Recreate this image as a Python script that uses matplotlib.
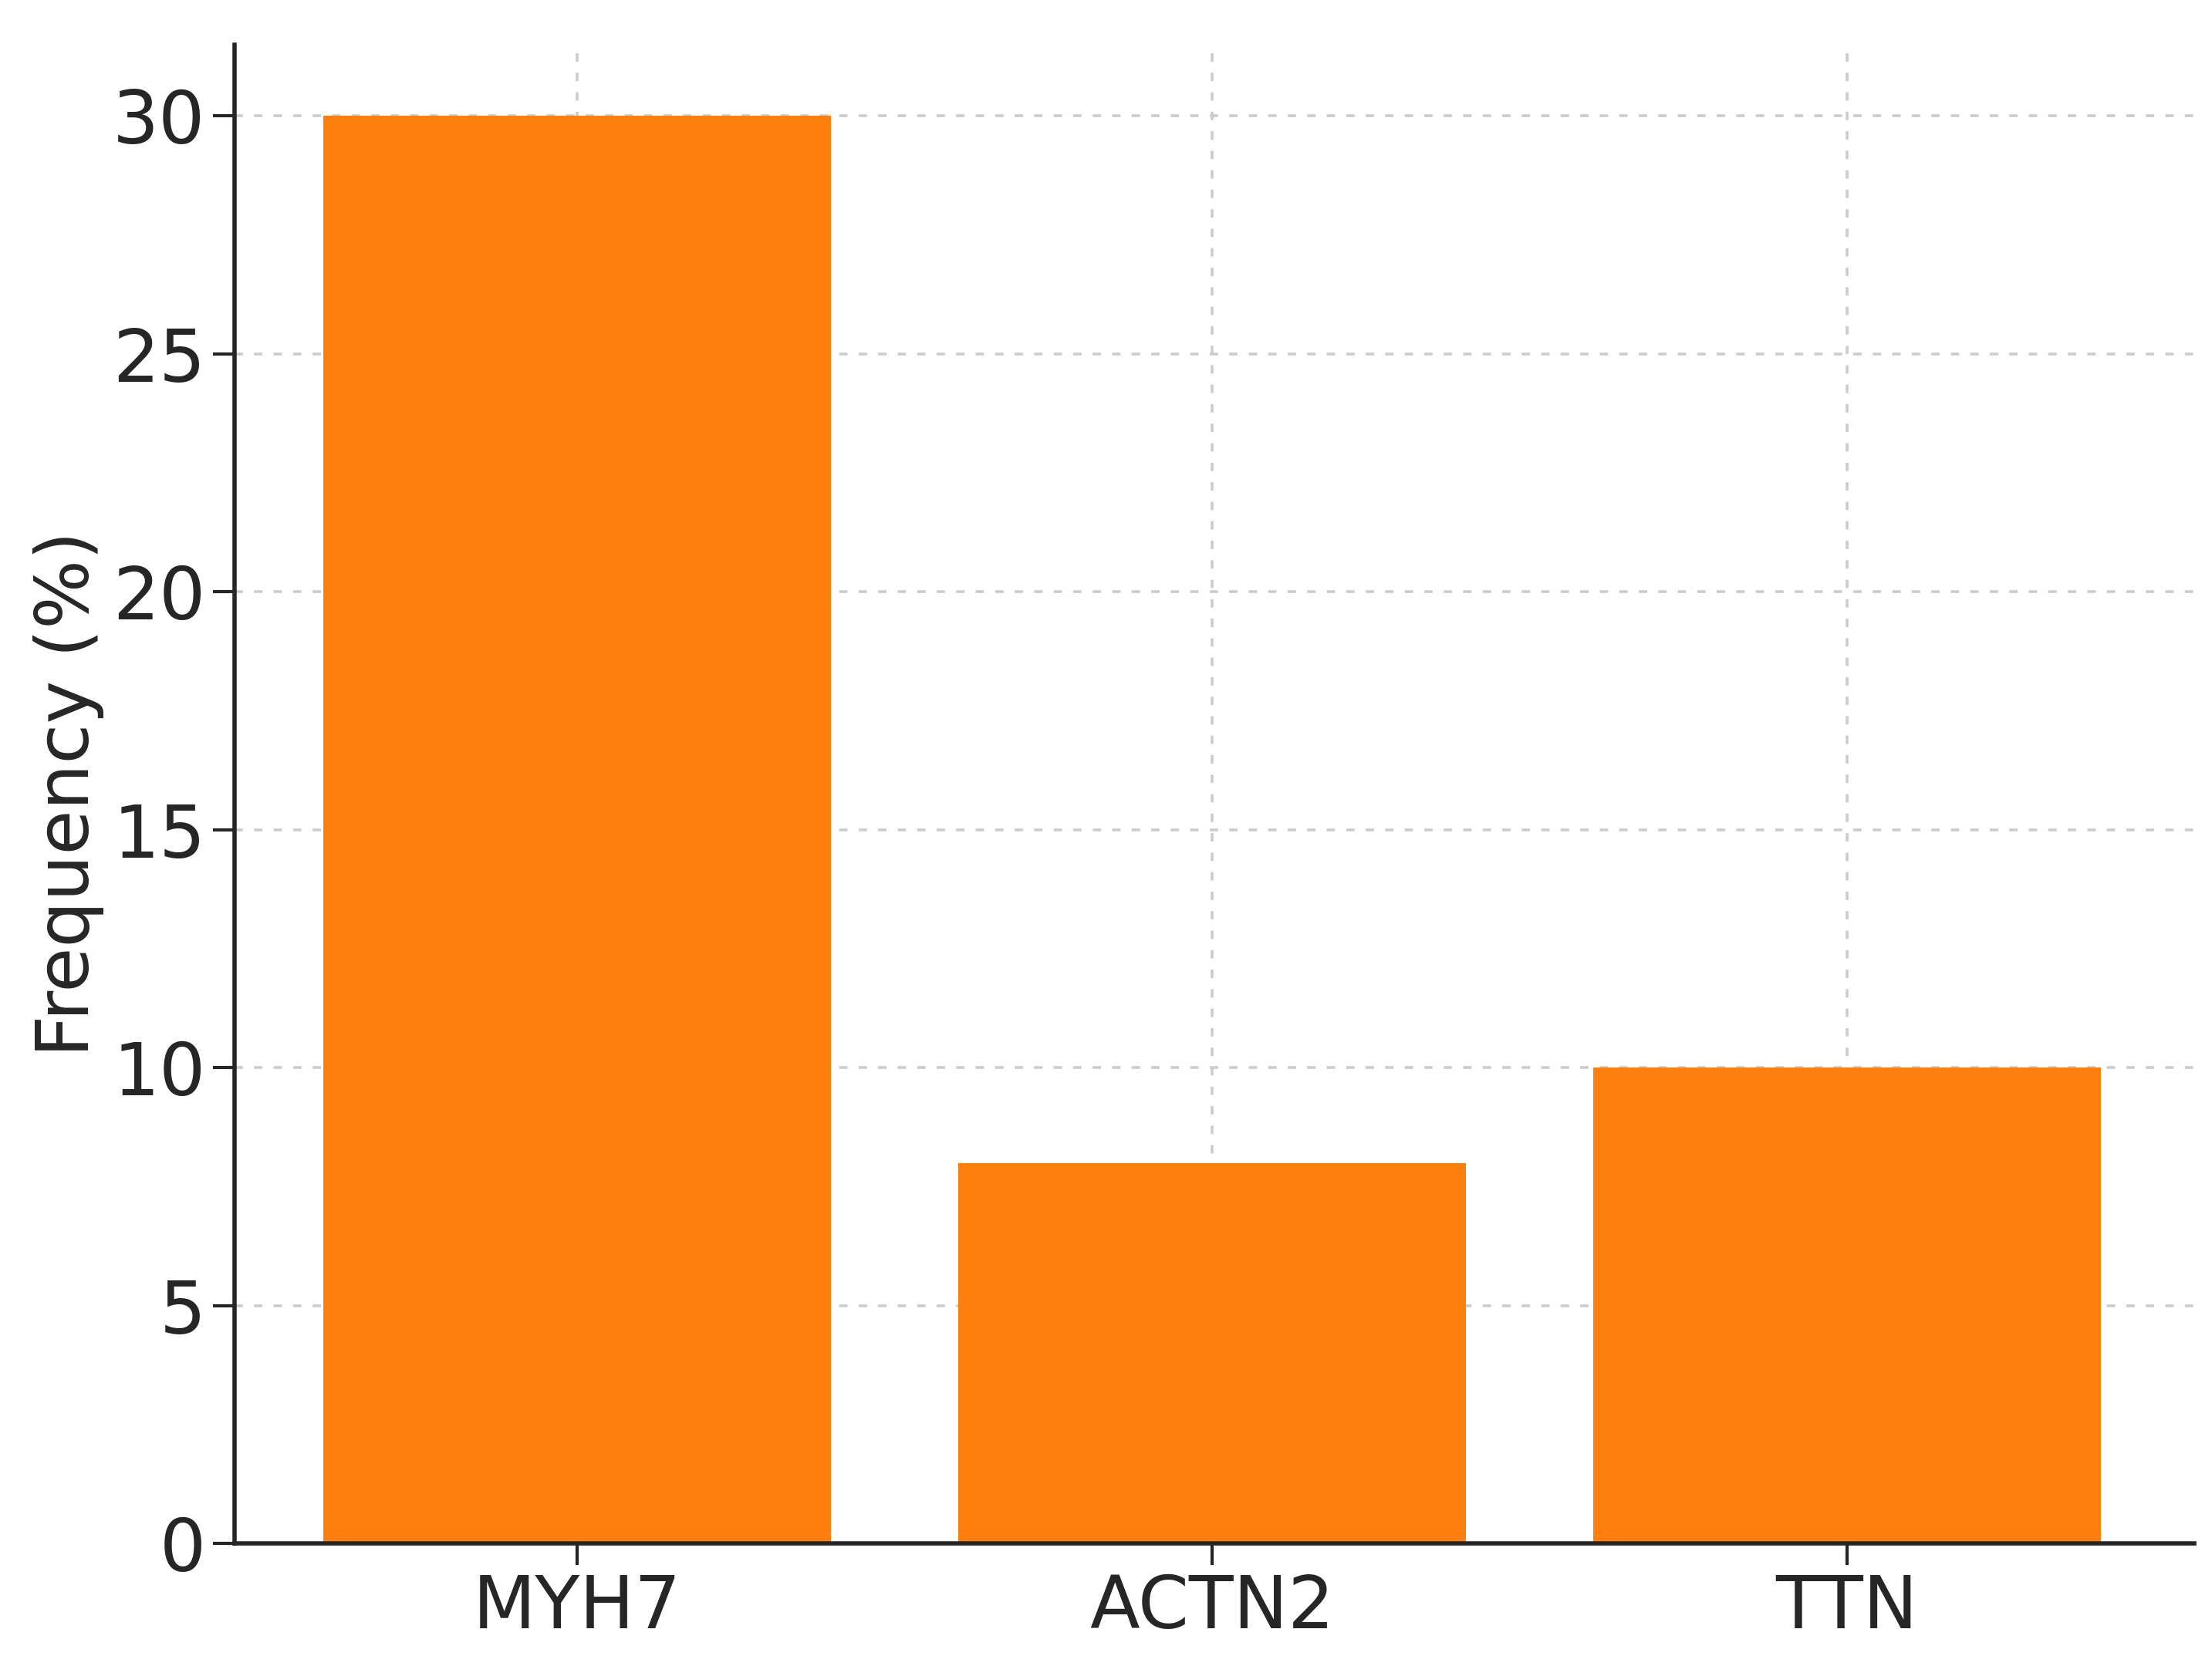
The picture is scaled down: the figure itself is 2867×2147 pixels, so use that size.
import matplotlib.pyplot as plt

genes = ["MYH7", "ACTN2", "TTN"]
frequency = [30, 8, 10]

fig = plt.figure(figsize=(14.335, 10.735), dpi=200)
ax = fig.add_axes([0.106, 0.068, 0.886, 0.905])
ax.bar(genes, frequency, width=0.8, color="#ff7f0e", zorder=2)
ax.set_xlim(-0.54, 2.547)
ax.set_ylim(0, 31.5)
ax.set_yticks([0, 5, 10, 15, 20, 25, 30])
ax.set_ylabel("Frequency (%)", fontsize=34, color="#262626")
ax.tick_params(labelsize=34, length=10, width=1.5, colors="#262626")
ax.grid(True, linestyle=(0, (3, 4)), color="#cccccc", linewidth=1.3, zorder=3)
for side in ("top", "right"):
    ax.spines[side].set_visible(False)
for side in ("left", "bottom"):
    ax.spines[side].set_linewidth(2)
    ax.spines[side].set_color("#262626")
fig.savefig("out.png", dpi=200)
